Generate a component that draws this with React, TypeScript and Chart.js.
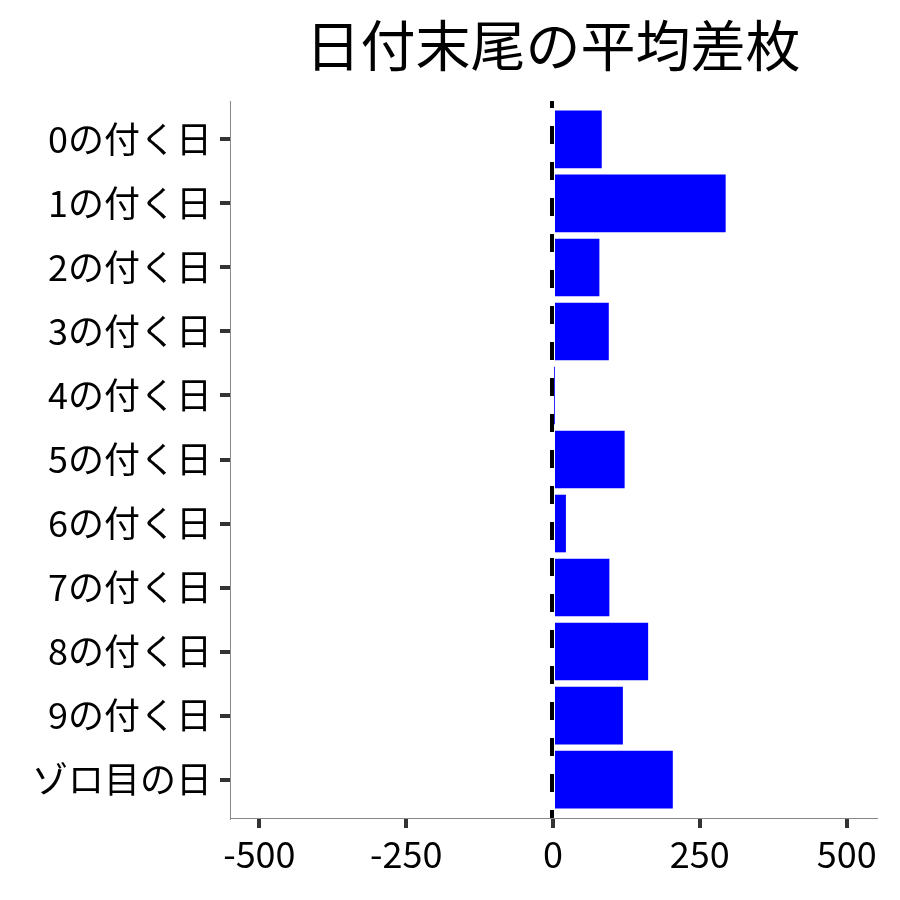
import { useEffect, useRef } from "react";
import { Chart, registerables } from "chart.js";

Chart.register(...registerables);

const title = "日付末尾の平均差枚";
const categories = [
  "0の付く日",
  "1の付く日",
  "2の付く日",
  "3の付く日",
  "4の付く日",
  "5の付く日",
  "6の付く日",
  "7の付く日",
  "8の付く日",
  "9の付く日",
  "ゾロ目の日",
];
const avgDiff = [83, 294, 79, 95, 2, 122, 22, 96, 162, 119, 204];
const xTicks = [-500, -250, 0, 250, 500];

const FONT = "'Noto Sans CJK JP', 'Noto Sans', sans-serif";

const zeroLine = {
  id: "zeroLine",
  afterDatasetsDraw(chart: any) {
    const { ctx, chartArea, scales } = chart;
    const x = scales.x.getPixelForValue(0);
    ctx.save();
    ctx.strokeStyle = "#000";
    ctx.lineWidth = 4;
    ctx.setLineDash([18, 18]);
    ctx.lineDashOffset = 11;
    ctx.beginPath();
    ctx.moveTo(x - 1, chartArea.top);
    ctx.lineTo(x - 1, chartArea.bottom);
    ctx.stroke();
    ctx.restore();
  },
};

const panelTitle = {
  id: "panelTitle",
  afterDraw(chart: any) {
    const { ctx, chartArea } = chart;
    ctx.save();
    ctx.fillStyle = "#000";
    ctx.font = `55px ${FONT}`;
    ctx.textAlign = "center";
    ctx.textBaseline = "middle";
    ctx.fillText(title, (chartArea.left + chartArea.right) / 2, 45);
    ctx.restore();
  },
};

export default function App() {
  const canvasRef = useRef<HTMLCanvasElement | null>(null);

  useEffect(() => {
    document.body.style.margin = "0";
    if (!canvasRef.current) return;
    const chart = new Chart(canvasRef.current, {
      type: "bar",
      data: {
        datasets: [
          {
            data: avgDiff.map((v, i) => ({ x: v, y: i })),
            backgroundColor: "#0000FF",
            borderWidth: 0,
            barPercentage: 0.9,
            categoryPercentage: 1,
          },
        ],
      },
      plugins: [zeroLine, panelTitle],
      options: {
        indexAxis: "y",
        animation: false,
        responsive: true,
        maintainAspectRatio: false,
        layout: { padding: { top: 101, right: 24, left: 0, bottom: 0 } },
        plugins: {
          legend: { display: false },
          tooltip: { enabled: false },
        },
        scales: {
          x: {
            type: "linear",
            min: -550,
            max: 550,
            offset: false,
            afterBuildTicks: (scale: any) => {
              scale.ticks = xTicks.map((v) => ({ value: v }));
            },
            afterFit: (scale: any) => {
              scale.height = 82;
            },
            grid: {
              display: true,
              drawOnChartArea: false,
              drawTicks: true,
              offset: false,
              color: "#333",
              lineWidth: 4,
              tickLength: 10,
              tickWidth: 4,
              tickColor: "#333",
            },
            border: { display: true, color: "#888", width: 1 },
            ticks: {
              font: { family: FONT, size: 36 },
              color: "#000",
              padding: 5,
              maxRotation: 0,
              autoSkip: false,
            },
          },
          y: {
            type: "linear",
            reverse: true,
            offset: false,
            min: -0.6,
            max: categories.length - 0.4,
            afterBuildTicks: (scale: any) => {
              scale.ticks = categories.map((_, i) => ({ value: i }));
            },
            afterFit: (scale: any) => {
              scale.width = 230;
            },
            grid: {
              display: true,
              drawOnChartArea: false,
              offset: false,
              color: "#333",
              lineWidth: 4,
              tickLength: 10,
              tickWidth: 4,
              tickColor: "#333",
            },
            border: { display: true, color: "#888", width: 1 },
            ticks: {
              font: { family: FONT, size: 36 },
              color: "#000",
              padding: 8,
              autoSkip: false,
              callback: (v: any) => categories[Number(v)] ?? "",
            },
          },
        },
      },
    } as any);
    return () => chart.destroy();
  }, []);

  return (
    <div style={{ width: 900, height: 900 }}>
      <canvas ref={canvasRef} />
    </div>
  );
}
